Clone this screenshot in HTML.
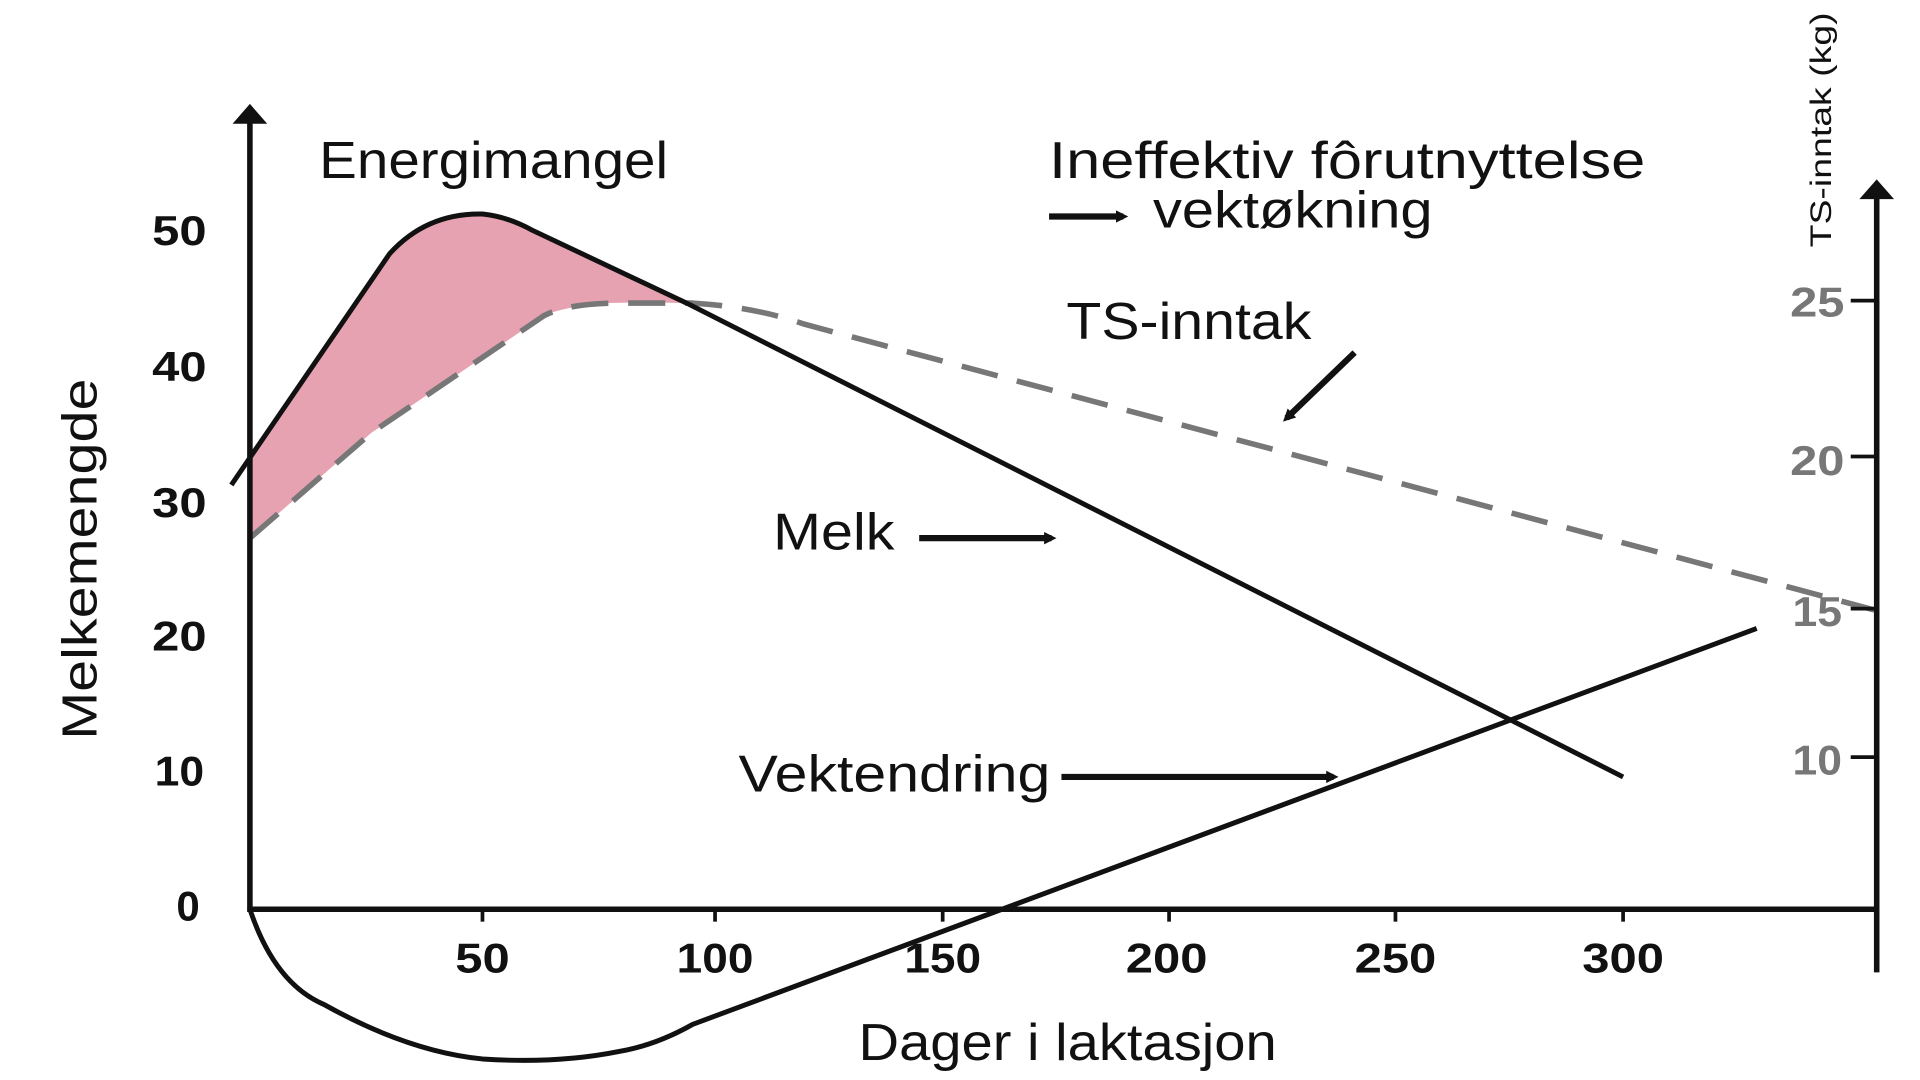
<!DOCTYPE html>
<html><head><style>html,body{margin:0;padding:0;background:#fff;overflow:hidden}svg{display:block}</style></head>
<body>
<svg width="1920" height="1080" viewBox="0 0 1552 873" preserveAspectRatio="none" xmlns="http://www.w3.org/2000/svg" font-family="'Liberation Sans', sans-serif">
<defs>
<marker id="ah" markerWidth="10" markerHeight="10" refX="6" refY="5" orient="auto" markerUnits="userSpaceOnUse"><path d="M0,0 L10,5 L0,10 Z" fill="#111"/></marker>
</defs>
<path d="M202,370 L315,205 Q345,172 390,173 Q410,175 430,186 L555,245 Q520,244 490,245 Q455,248 440,255 L300,350 L202,435 Z" fill="#e6a2b0"/>
<path d="M202,435 L300,350 L440,255 Q460,245 500,245 L560,245 Q610,248 650,262 L1515,493" fill="none" stroke="#777" stroke-width="4.5" stroke-dasharray="30 16"/>
<path d="M187,392 L202,370 L315,205 Q345,172 390,173 Q410,175 430,186 L555,245 L1312,628" fill="none" stroke="#111" stroke-width="4"/>
<path d="M202,735 Q222,795 262,812 Q330,850 390,856 Q450,860 500,850 Q530,845 560,828 L1420,508" fill="none" stroke="#111" stroke-width="4"/>
<line x1="202" y1="95" x2="202" y2="737" stroke="#111" stroke-width="4.5"/>
<path d="M188,100 L202,84 L216,100 Z" fill="#111"/>
<line x1="200" y1="735" x2="1517" y2="735" stroke="#111" stroke-width="4.5"/>
<line x1="1517" y1="155" x2="1517" y2="786" stroke="#111" stroke-width="4.5"/>
<path d="M1503,161 L1517,145 L1531,161 Z" fill="#111"/>
<g stroke="#111" stroke-width="3">
<line x1="390" y1="735" x2="390" y2="745"/><line x1="578" y1="735" x2="578" y2="745"/><line x1="762" y1="735" x2="762" y2="745"/><line x1="945" y1="735" x2="945" y2="745"/><line x1="1128" y1="735" x2="1128" y2="745"/><line x1="1312" y1="735" x2="1312" y2="745"/>
<line x1="1496" y1="243" x2="1517" y2="243"/><line x1="1496" y1="369" x2="1517" y2="369"/><line x1="1496" y1="492" x2="1517" y2="492"/><line x1="1496" y1="612" x2="1517" y2="612"/>
</g>
<g font-size="34" font-weight="bold" fill="#111" text-anchor="middle">
<text x="145" y="198" textLength="44" lengthAdjust="spacingAndGlyphs">50</text><text x="145" y="308" textLength="44" lengthAdjust="spacingAndGlyphs">40</text><text x="145" y="418" textLength="44" lengthAdjust="spacingAndGlyphs">30</text><text x="145" y="526" textLength="44" lengthAdjust="spacingAndGlyphs">20</text><text x="145" y="635" textLength="40" lengthAdjust="spacingAndGlyphs">10</text><text x="152" y="744">0</text>
<text x="390" y="786" textLength="44" lengthAdjust="spacingAndGlyphs">50</text><text x="578" y="786" textLength="62" lengthAdjust="spacingAndGlyphs">100</text><text x="762" y="786" textLength="62" lengthAdjust="spacingAndGlyphs">150</text><text x="943" y="786" textLength="66" lengthAdjust="spacingAndGlyphs">200</text><text x="1128" y="786" textLength="66" lengthAdjust="spacingAndGlyphs">250</text><text x="1312" y="786" textLength="66" lengthAdjust="spacingAndGlyphs">300</text>
</g>
<g font-size="34" font-weight="bold" fill="#777" text-anchor="middle">
<text x="1469" y="256" textLength="44" lengthAdjust="spacingAndGlyphs">25</text><text x="1469" y="384" textLength="44" lengthAdjust="spacingAndGlyphs">20</text><text x="1469" y="506" textLength="40" lengthAdjust="spacingAndGlyphs">15</text><text x="1469" y="626" textLength="40" lengthAdjust="spacingAndGlyphs">10</text>
</g>
<text transform="translate(78,452) rotate(-90)" font-size="40" text-anchor="middle" fill="#111" textLength="292" lengthAdjust="spacingAndGlyphs">Melkemengde</text>
<text transform="translate(1480,105) rotate(-90)" font-size="24" text-anchor="middle" fill="#111" textLength="190" lengthAdjust="spacingAndGlyphs">TS-inntak (kg)</text>
<g font-size="42" fill="#111">
<text x="258" y="144" textLength="282" lengthAdjust="spacingAndGlyphs">Energimangel</text>
<text x="848" y="144" textLength="482" lengthAdjust="spacingAndGlyphs">Ineffektiv fôrutnyttelse</text>
<text x="932" y="184" textLength="226" lengthAdjust="spacingAndGlyphs">vektøkning</text>
<text x="862" y="274" textLength="198" lengthAdjust="spacingAndGlyphs">TS-inntak</text>
<text x="625" y="444" textLength="98" lengthAdjust="spacingAndGlyphs">Melk</text>
<text x="597" y="640" textLength="252" lengthAdjust="spacingAndGlyphs">Vektendring</text>
<text x="863" y="857" text-anchor="middle" textLength="338" lengthAdjust="spacingAndGlyphs">Dager i laktasjon</text>
</g>
<g stroke="#111" stroke-width="5" marker-end="url(#ah)">
<line x1="848" y1="175" x2="908" y2="175"/>
<line x1="1095" y1="285" x2="1040" y2="338"/>
<line x1="743" y1="435" x2="850" y2="435"/>
<line x1="858" y1="628" x2="1078" y2="628"/>
</g>
</svg>
</body></html>
